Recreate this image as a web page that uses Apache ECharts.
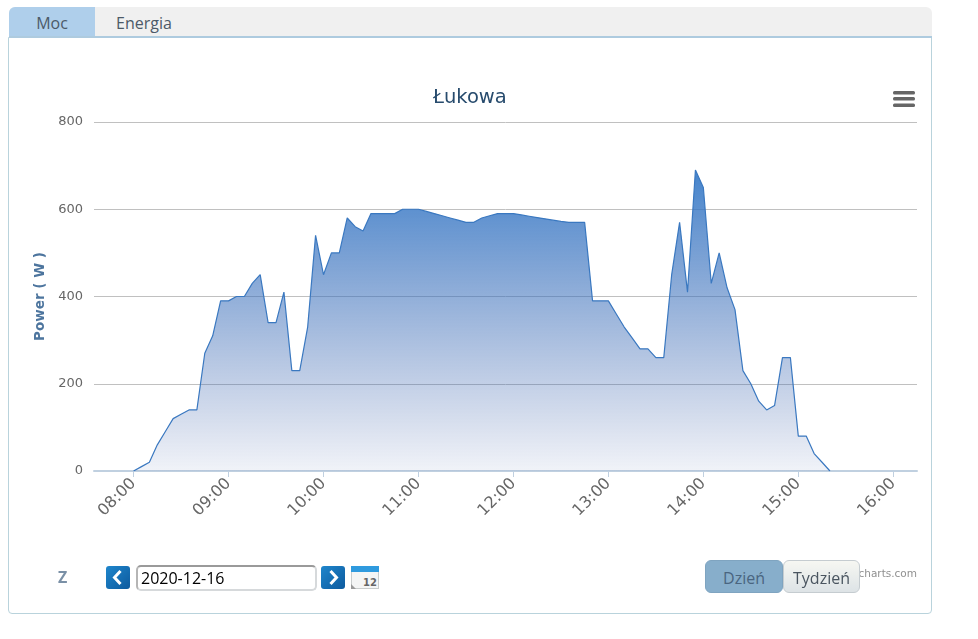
<!DOCTYPE html>
<html>
<head>
<meta charset="utf-8">
<title>Łukowa</title>
<script src="https://cdn.jsdelivr.net/npm/echarts@6/dist/echarts.min.js"></script>
<style>
  html, body { margin: 0; padding: 0; background: #fff; width: 978px; height: 639px; overflow: hidden; font-family: "Open Sans", sans-serif; }
  #card { position: absolute; left: 8px; top: 37px; width: 922px; height: 575px; border: 1px solid #b9d3dc; border-radius: 0 0 4px 4px; }
  #tabs { position: absolute; left: 9px; top: 7px; width: 923px; height: 29px; background: #f0f0f0; border-bottom: 2px solid #aecbdf; border-radius: 6px 6px 0 0; }
  #tabMoc { position: absolute; left: 0; top: 0; width: 86px; height: 29px; line-height: 32px; text-align: center; background: #afcfeb; border-radius: 6px 0 0 0; color: #4c5a68; font-size: 16px; }
  #tabEnergia { position: absolute; left: 107px; top: 0; height: 29px; line-height: 32px; color: #4c5a68; font-size: 16px; }
  #chart { position: absolute; left: 0; top: 0; width: 978px; height: 639px; }
  .ui { position: absolute; box-sizing: border-box; }
  #zLabel { left: 58px; top: 566px; font-size: 16px; font-weight: bold; color: #7a90a6; }
  .nav { width: 24px; height: 23px; top: 566px; border-radius: 3px; background: linear-gradient(135deg, #1f86cc, #0d5a9e); }
  #dateInput { left: 136px; top: 565px; width: 181px; height: 26px; border: 2px solid #d6d9db; border-top-color: #9a9a9a; border-left-color: #b5b5b5; border-radius: 5px; background: #fff; font-size: 16px; line-height: 23px; padding-left: 3px; color: #000; }
  .btn { top: 560px; height: 33px; line-height: 34px; text-align: center; font-size: 16px; border-radius: 6px; }
  #btnDay { left: 705px; width: 78px; background: #87aecb; color: #4a6580; border: 1px solid #7fa4c0; }
  #btnWeek { left: 783px; width: 77px; background: linear-gradient(#f6f7f2, #dde3e6); color: #4a5560; border: 1px solid #c5ccd0; }
</style>
</head>
<body>
<div id="card"></div>
<div id="tabs">
  <div id="tabMoc">Moc</div>
  <div id="tabEnergia">Energia</div>
</div>
<div id="chart"></div>
<div class="ui" id="zLabel">Z</div>
<div class="ui nav" style="left:106px">
  <svg width="24" height="23"><path d="M14.5 5 L8.5 11.5 L14.5 18" fill="none" stroke="#fff" stroke-width="3"/></svg>
</div>
<div class="ui" id="dateInput">2020-12-16</div>
<div class="ui nav" style="left:321px">
  <svg width="24" height="23"><path d="M9.5 5 L15.5 11.5 L9.5 18" fill="none" stroke="#fff" stroke-width="3"/></svg>
</div>
<div class="ui" style="left:351px;top:566px;width:28px;height:23px">
  <svg width="28" height="23">
    <rect x="0.5" y="0.5" width="27" height="22" fill="#f4f5f5" stroke="#c8cccc"/>
    <rect x="0" y="0" width="28" height="6" fill="#2f9ade"/>
    <path d="M0 23 L0 18 L5 23 Z" fill="#999"/>
    <text x="26" y="20" text-anchor="end" font-size="10" font-weight="bold" font-family="DejaVu Sans" fill="#666">12</text>
  </svg>
</div>
<div class="ui btn" id="btnDay">Dzień</div>
<div class="ui btn" id="btnWeek">Tydzień</div>
<script>
const timeLabels = [
  '07:35', '07:40', '07:45', '07:50', '07:55',
  '08:00', '08:05', '08:10', '08:15', '08:20', '08:25', '08:30', '08:35', '08:40', '08:45', '08:50', '08:55',
  '09:00', '09:05', '09:10', '09:15', '09:20', '09:25', '09:30', '09:35', '09:40', '09:45', '09:50', '09:55',
  '10:00', '10:05', '10:10', '10:15', '10:20', '10:25', '10:30', '10:35', '10:40', '10:45', '10:50', '10:55',
  '11:00', '11:05', '11:10', '11:15', '11:20', '11:25', '11:30', '11:35', '11:40', '11:45', '11:50', '11:55',
  '12:00', '12:05', '12:10', '12:15', '12:20', '12:25', '12:30', '12:35', '12:40', '12:45', '12:50', '12:55',
  '13:00', '13:05', '13:10', '13:15', '13:20', '13:25', '13:30', '13:35', '13:40', '13:45', '13:50', '13:55',
  '14:00', '14:05', '14:10', '14:15', '14:20', '14:25', '14:30', '14:35', '14:40', '14:45', '14:50', '14:55',
  '15:00', '15:05', '15:10', '15:15', '15:20', '15:25', '15:30', '15:35', '15:40', '15:45', '15:50', '15:55',
  '16:00', '16:05', '16:10', '16:15',
]
const powerValues = [
  null, null, null, null, null,
  0, 10, 20, 60, 90, 120, 130, 140, 140, 270, 310, 390,
  390, 400, 400, 430, 450, 340, 340, 410, 230, 230, 330, 540,
  450, 500, 500, 580, 560, 550, 590, 590, 590, 590, 600, 600,
  600, 595, 590, 585, 580, 575, 570, 570, 580, 585, 590, 590,
  590, 587, 584, 581, 578, 575, 572, 570, 570, 570, 390, 390,
  390, 360, 330, 305, 280, 280, 260, 260, 450, 570, 410, 690,
  650, 430, 500, 420, 370, 230, 200, 160, 140, 150, 260, 260,
  80, 80, 40, 20, 0, null, null, null, null, null, null, null,
  null, null, null, null,
]
const yTicks = { min: 0, max: 800, interval: 200 }

const chart = echarts.init(document.getElementById('chart'), null, { renderer: 'canvas' })
const isHour = (index, value) => value.endsWith(':00')

chart.setOption({
  animation: false,
  backgroundColor: 'transparent',
  textStyle: { fontFamily: 'DejaVu Sans' },
  title: {
    text: 'Łukowa',
    left: 428,
    top: 83,
    textStyle: { color: '#274b6d', fontSize: 19.5, fontWeight: 'normal', fontFamily: 'DejaVu Sans' },
  },
  grid: { left: 94, right: 61, top: 122, bottom: 168 },
  xAxis: {
    type: 'category',
    boundaryGap: false,
    data: timeLabels,
    axisLine: { lineStyle: { color: '#c0d0e0', width: 2 } },
    axisTick: { interval: isHour, length: 6, lineStyle: { color: '#c0d0e0', width: 1 } },
    axisLabel: { interval: isHour, rotate: 45, color: '#666', fontSize: 16, margin: 10 },
    splitLine: { show: false },
  },
  yAxis: {
    type: 'value',
    min: yTicks.min,
    max: yTicks.max,
    interval: yTicks.interval,
    name: 'Power ( W )',
    nameLocation: 'middle',
    nameGap: 46,
    nameRotate: 90,
    nameTextStyle: { color: '#4d759e', fontSize: 13.5, fontWeight: 'bold', fontFamily: 'DejaVu Sans' },
    axisLine: { show: false },
    axisTick: { show: false },
    axisLabel: { color: '#666', fontSize: 13, margin: 11 },
    splitLine: { lineStyle: { color: '#c0c0c0', width: 1 } },
  },
  series: [
    {
      type: 'line',
      data: powerValues,
      symbol: 'none',
      connectNulls: false,
      lineStyle: { color: '#3a78c0', width: 1.2 },
      areaStyle: {
        opacity: 1,
        color: new echarts.graphic.LinearGradient(0, 0, 0, 1, [
          { offset: 0, color: 'rgba(49,119,199,0.9)' },
          { offset: 1, color: 'rgba(70,100,170,0.08)' },
        ]),
      },
    },
  ],
  graphic: [
    { type: 'rect', left: 893, top: 91, shape: { width: 22, height: 3.5, r: 1.5 }, style: { fill: '#666' } },
    { type: 'rect', left: 893, top: 97, shape: { width: 22, height: 3.5, r: 1.5 }, style: { fill: '#666' } },
    { type: 'rect', left: 893, top: 103.5, shape: { width: 22, height: 3.5, r: 1.5 }, style: { fill: '#666' } },
    {
      type: 'text',
      right: 61,
      top: 569,
      style: { text: 'Highcharts.com', fill: '#909090', fontSize: 10.5, fontFamily: 'DejaVu Sans' },
    },
  ],
})
</script>
</body>
</html>
